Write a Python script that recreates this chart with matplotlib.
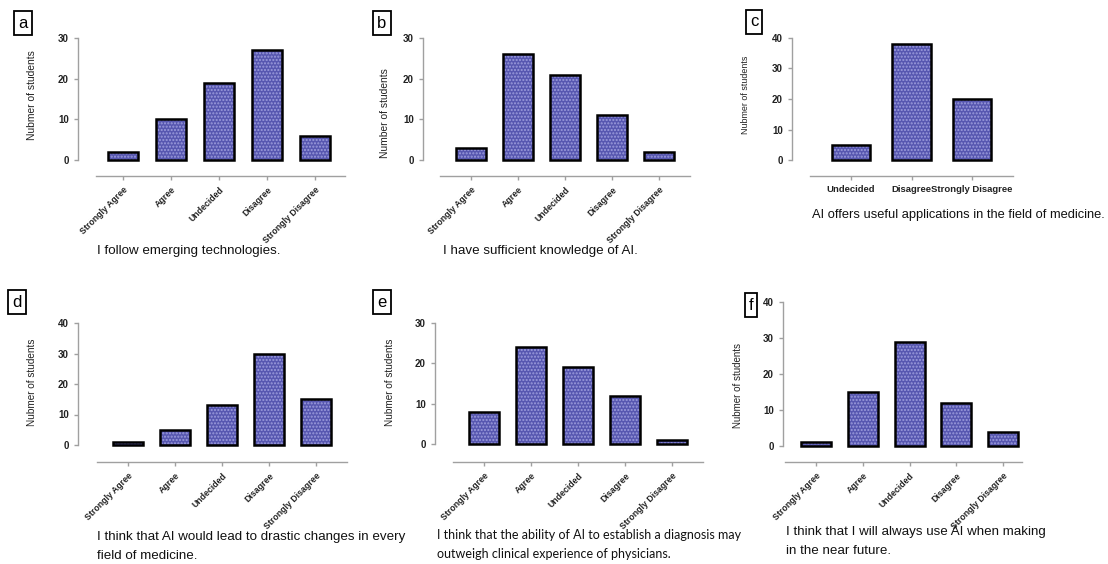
import numpy as np
import matplotlib
matplotlib.use("Agg")
import matplotlib.pyplot as plt

plt.rcParams['font.family'] = ['Liberation Sans', 'DejaVu Sans']

# survey answers
likert5 = ['Strongly Agree', 'Agree', 'Undecided', 'Disagree', 'Strongly Disagree']
likert3 = ['Undecided', 'Disagree', 'Strongly Disagree']

vals_a = [2, 10, 19, 27, 6]
vals_b = [3, 26, 21, 11, 2]
vals_c = [5, 38, 20]
vals_d = [1, 5, 13, 30, 15]
vals_e = [8, 24, 19, 12, 1]
vals_f = [1, 15, 29, 12, 4]

ymax_list = [30, 30, 40, 40, 30, 40]
letters = ['a', 'b', 'c', 'd', 'e', 'f']
ylabels = ['Nubmer of students', 'Number of students', 'Nubmer of students',
           'Nubmer of students', 'Nubmer of students', 'Nubmer of students']
captions = ['I follow emerging technologies.',
            'I have sufficient knowledge of AI.',
            'AI offers useful applications in the field of medicine.',
            'I think that AI would lead to drastic changes in every\nfield of medicine.',
            'I think that the ability of AI to establish a diagnosis may\noutweigh clinical experience of physicians.',
            'I think that I will always use AI when making\nin the near future.']

W, H = 1108, 564
BLUE = '#5757b0'
DOTS = '#9c9cdc'
GREY = '#a0a0a0'

# layout in pixels: y-axis x, x-axis left, x-axis right, first bar centre, spacing,
# y px of top tick, y px of zero, y px of x-axis line
layout = [
    dict(yx=78, xl=96, xr=345, c0=123, sp=48, top=38, zero=160, xy=176),
    dict(yx=423, xl=440, xr=690, c0=471, sp=47, top=38, zero=160, xy=176),
    dict(yx=792, xl=810, xr=1013, c0=851, sp=60.5, top=38, zero=160, xy=176),
    dict(yx=78, xl=97, xr=347, c0=128, sp=47, top=323, zero=445, xy=462),
    dict(yx=435, xl=453, xr=703, c0=484, sp=47, top=323, zero=444, xy=462),
    dict(yx=783, xl=785, xr=1022, c0=816, sp=46.8, top=302, zero=446, xy=462),
]
# label boxes (x, y centre), ylabel pos + size, caption pos (left x, top y) + size
letter_pos = [(23, 23), (382, 23), (754, 22), (17, 302), (382, 302), (751, 305)]
ylabel_pos = [(32, 95), (385, 113), (746, 95), (32, 382), (390, 382), (738, 385)]
ylabel_size = [7.4, 7.4, 6.4, 7.2, 7.2, 7.0]
caption_pos = [(97, 245), (443, 245), (812, 209), (97, 531), (437, 529), (786, 526)]
caption_size = [9.6, 9.6, 9.3, 9.6, 9.0, 9.6]

fig = plt.figure(figsize=(W / 100, H / 100), dpi=100)

all_vals = [vals_a, vals_b, vals_c, vals_d, vals_e, vals_f]
for i, vals in enumerate(all_vals):
    L = layout[i]
    cats = likert3 if len(vals) == 3 else likert5
    rect = [L['yx'] / W, 1 - L['zero'] / H, (L['xr'] - L['yx']) / W, (L['zero'] - L['top']) / H]
    ax = fig.add_axes(rect)
    x = np.arange(len(vals))
    ax.bar(x, vals, width=0.64, color=BLUE, edgecolor=DOTS, hatch='.....', linewidth=0, zorder=2)
    ax.bar(x, vals, width=0.64, color='none', edgecolor='black', linewidth=1.8, zorder=3, clip_on=False)
    ax.set_xlim((L['yx'] - L['c0']) / L['sp'], (L['xr'] - L['c0']) / L['sp'])
    ax.set_ylim(0, ymax_list[i])
    ax.set_yticks(np.arange(0, ymax_list[i] + 1, 10))
    for s in ['top', 'right']:
        ax.spines[s].set_visible(False)
    for s in ['left', 'bottom']:
        ax.spines[s].set_color(GREY)
        ax.spines[s].set_linewidth(1.0)
    ax.spines['bottom'].set_position(('outward', (L['xy'] - L['zero']) * 0.72))
    ax.spines['bottom'].set_bounds((L['xl'] - L['c0']) / L['sp'], (L['xr'] - L['c0']) / L['sp'])
    ax.tick_params(colors=GREY, length=3, width=1.0, labelcolor='#222222')
    ax.set_xticks(x)
    if len(vals) == 3:
        ax.set_xticklabels(cats, fontsize=6.8, fontweight='bold')
    else:
        ax.set_xticklabels(cats, fontsize=6.3, fontweight='bold', rotation=45,
                           ha='right', rotation_mode='anchor')
    for t in ax.get_yticklabels():
        t.set_fontsize(7)
        t.set_fontweight('bold')
    ax.patch.set_visible(False)

    lx, ly = letter_pos[i]
    fig.text(lx / W, 1 - ly / H, letters[i], fontsize=12, ha='center', va='center',
             bbox=dict(boxstyle='square,pad=0.25', fc='white', ec='black', lw=1.3))
    px, py = ylabel_pos[i]
    fig.text(px / W, 1 - py / H, ylabels[i], rotation=90, fontsize=ylabel_size[i],
             ha='center', va='center', color='#222222')
    cx, cy = caption_pos[i]
    fam = ['Lato', 'DejaVu Sans'] if i == 4 else ['Liberation Sans', 'DejaVu Sans']
    fig.text(cx / W, 1 - cy / H, captions[i], fontsize=caption_size[i], ha='left', va='top',
             family=fam, linespacing=1.75, color='#111111')

fig.savefig('out.png', dpi=100)
